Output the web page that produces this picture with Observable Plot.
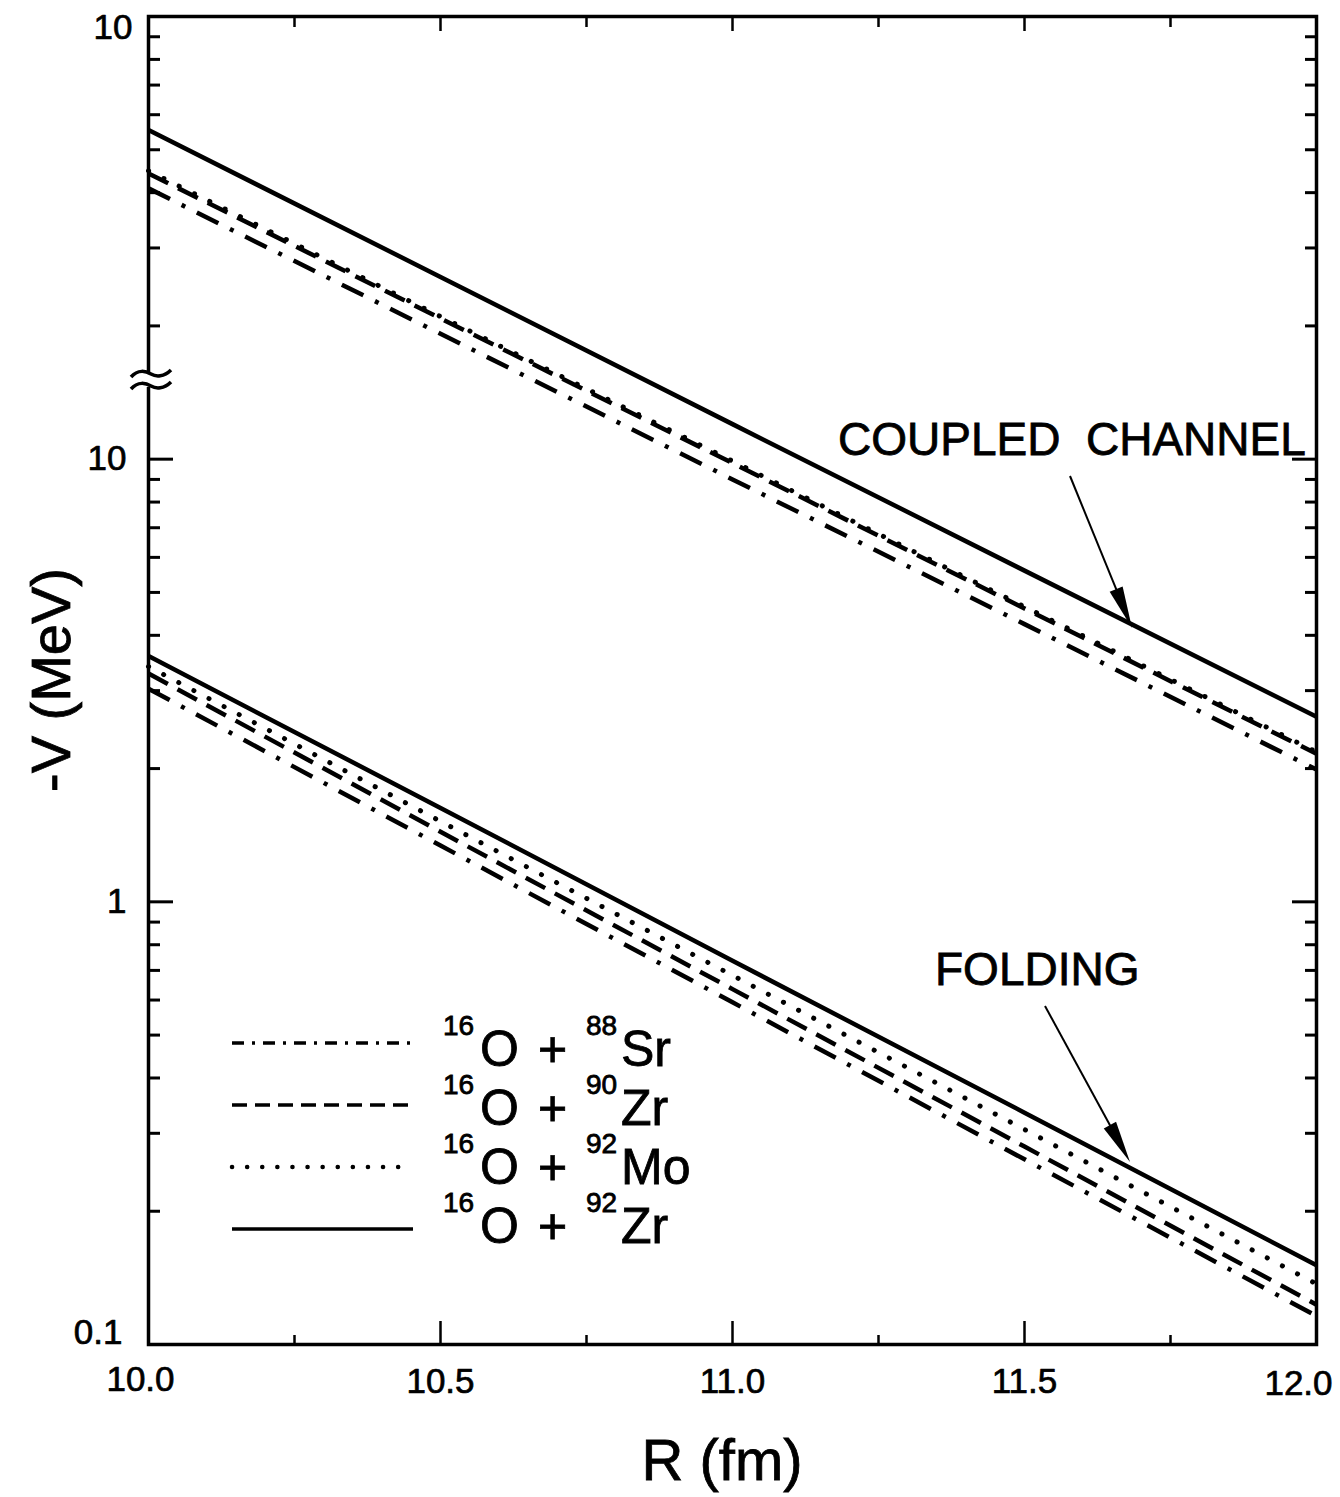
<!DOCTYPE html>
<html><head><meta charset="utf-8">
<script src="https://cdn.jsdelivr.net/npm/d3@7"></script>
<script src="https://cdn.jsdelivr.net/npm/@observablehq/plot@0.6"></script>
<style>
html,body{margin:0;padding:0;background:#fff;}
#wrap{position:relative;width:1340px;height:1497px;overflow:hidden;}
#wrap svg{position:absolute;left:0;top:0;}
</style></head><body><div id="wrap"></div>
<script>
// ---- data ----
const R = [10, 10.5, 11, 11.5, 12];                 // R (fm)
// coupled-channel potentials -V (MeV)
const ccSr88 = [40.9, 19.2, 9.0, 4.24, 1.99];
const ccZr90 = [44.2, 20.8, 9.8, 4.6, 2.16];
const ccMo92 = [44.8, 21.0, 9.9, 4.64, 2.18];
const ccZr92 = [55.4, 25.8, 12.0, 5.6, 2.62];
// folding potentials -V (MeV)
const foSr88 = [3.03, 1.34, 0.593, 0.262, 0.116];
const foZr90 = [3.28, 1.44, 0.635, 0.280, 0.123];
const foMo92 = [3.40, 1.52, 0.682, 0.306, 0.137];
const foZr92 = [3.59, 1.63, 0.736, 0.334, 0.151];
const systems = ["88Sr", "90Zr", "92Mo", "92Zr"];
const legendMass = ["88", "90", "92", "92"];
const legendElem = ["Sr", "Zr", "Mo", "Zr"];
const yMajor = [0.1, 1, 10, 100];
const yMinor = [0.2,0.3,0.4,0.5,0.6,0.7,0.8,0.9,2,3,4,5,6,7,8,9,20,30,40,50,60,70,80,90];
const xMajor = [10, 10.5, 11, 11.5, 12];
const xMinor = [10.25, 10.75, 11.25, 11.75];

const FONT = "'Liberation Sans', Arial, Helvetica, sans-serif";

const series = {
  coupled: {"88Sr": ccSr88, "90Zr": ccZr90, "92Mo": ccMo92, "92Zr": ccZr92},
  folding: {"88Sr": foSr88, "90Zr": foZr90, "92Mo": foMo92, "92Zr": foZr92}
};
const rows = [];
for (const model of Object.keys(series))
  for (const s of systems)
    series[model][s].forEach((v, i) => rows.push({model, system: s, R: R[i], V: v}));

const styles = {
  "88Sr": {dash: "24,13,4,13", cap: "butt", w: 4.5},
  "90Zr": {dash: "22,11", cap: "butt", w: 4.5},
  "92Mo": {dash: "0.1,17", cap: "round", w: 5},
  "92Zr": {dash: null, cap: "butt", w: 4.5}
};
const legendStyles = {
  "88Sr": "12,8,3,8",
  "90Zr": "15,8",
  "92Mo": "0.1,15",
  "92Zr": null
};

const lineMarks = [];
for (const model of Object.keys(series))
  for (const s of systems) {
    const st = styles[s];
    const o = {x: "R", y: "V", stroke: "black", strokeWidth: st.w, strokeLinecap: st.cap};
    if (st.dash) o.strokeDasharray = st.dash;
    lineMarks.push(Plot.line(rows.filter(d => d.model === model && d.system === s), o));
  }

const tickText = {tickSize: 0, fontSize: 35, label: null, textStroke: "black", textStrokeWidth: 0.7};

const plot = Plot.plot({
  width: 1340, height: 1497,
  marginLeft: 148, marginRight: 24, marginTop: 16, marginBottom: 153,
  style: {fontFamily: FONT, background: "transparent", color: "black"},
  x: {domain: [10, 12]},
  y: {type: "log", domain: [0.1, 100]},
  marks: [
    ...lineMarks,
    Plot.frame({stroke: "black", strokeWidth: 3.5}),
    // inward ticks
    Plot.axisY({anchor: "left", ticks: yMajor, tickSize: -25, strokeWidth: 3, fill: "none"}),
    Plot.axisY({anchor: "left", ticks: yMinor, tickSize: -12, strokeWidth: 3, fill: "none"}),
    Plot.axisY({anchor: "right", ticks: yMajor, tickSize: -25, strokeWidth: 3, fill: "none"}),
    Plot.axisY({anchor: "right", ticks: yMinor, tickSize: -12, strokeWidth: 3, fill: "none"}),
    Plot.axisX({anchor: "bottom", ticks: xMajor, tickSize: -23, strokeWidth: 2.5, fill: "none"}),
    Plot.axisX({anchor: "bottom", ticks: xMinor, tickSize: -9, strokeWidth: 2.5, fill: "none"}),
    Plot.axisX({anchor: "top", ticks: xMajor, tickSize: -14, strokeWidth: 2.5, fill: "none"}),
    Plot.axisX({anchor: "top", ticks: xMinor, tickSize: -10, strokeWidth: 2.5, fill: "none"}),
    // tick labels
    Plot.axisY({anchor: "left", ticks: [1, 10], tickPadding: 22, ...tickText, tickFormat: d => String(d)}),
    Plot.axisY({anchor: "left", ticks: [0.1], tickPadding: 26, ...tickText, dy: -12, tickFormat: d => String(d)}),
    Plot.axisY({anchor: "left", ticks: [100], tickPadding: 16, ...tickText, dy: 11, tickFormat: () => "10"}),
    Plot.axisX({anchor: "bottom", ticks: [10], tickPadding: 22, ...tickText, dx: -8, tickFormat: d3.format(".1f")}),
    Plot.axisX({anchor: "bottom", ticks: [10.5, 11, 11.5], tickPadding: 24, ...tickText, tickFormat: d3.format(".1f")}),
    Plot.axisX({anchor: "bottom", ticks: [12], tickPadding: 26, ...tickText, dx: -18, tickFormat: d3.format(".1f")})
  ]
});
document.getElementById("wrap").appendChild(plot);

// ---- overlay: axis titles, axis break, legend, annotations ----
const ov = d3.create("svg").attr("width", 1340).attr("height", 1497)
  .style("font-family", FONT).style("pointer-events", "none");
const heavy = sel => sel.attr("stroke", "black").attr("stroke-width", 0.8);

heavy(ov.append("text").attr("transform", "translate(70,680) rotate(-90)")
  .attr("text-anchor", "middle").attr("font-size", 56).text("-V (MeV)"));
heavy(ov.append("text").attr("x", 722).attr("y", 1480)
  .attr("text-anchor", "middle").attr("font-size", 58).text("R (fm)"));

// axis break symbol on the left axis
ov.append("rect").attr("x", 140).attr("y", 373).attr("width", 16).attr("height", 14).attr("fill", "white");
for (const yy of [374, 386]) {
  ov.append("path")
    .attr("d", `M131,${yy + 3} C138,${yy - 5} 146,${yy - 3} 151,${yy} S164,${yy + 3} 171,${yy - 4}`)
    .attr("fill", "none").attr("stroke", "black").attr("stroke-width", 3.5);
}

// legend
const lg = ov.append("g");
systems.forEach((s, i) => {
  const base = 1066 + i * 59;
  const ly = base - 23 + i * 3;
  const ln = lg.append("line").attr("x1", 232).attr("x2", 413).attr("y1", ly).attr("y2", ly)
    .attr("stroke", "black").attr("stroke-width", s === "92Mo" ? 4.5 : 3.5)
    .attr("stroke-linecap", s === "92Mo" ? "round" : "butt");
  if (legendStyles[s]) ln.attr("stroke-dasharray", legendStyles[s]);
  heavy(lg.append("text").attr("x", 443).attr("y", base - 31).attr("font-size", 28).text("16"));
  heavy(lg.append("text").attr("x", 480).attr("y", base).attr("font-size", 50).text("O"));
  heavy(lg.append("text").attr("x", 538).attr("y", base).attr("font-size", 50).text("+"));
  heavy(lg.append("text").attr("x", 586).attr("y", base - 31).attr("font-size", 28).text(legendMass[i]));
  heavy(lg.append("text").attr("x", 621).attr("y", base).attr("font-size", 50).text(legendElem[i]));
});

// annotations
function arrow(x1, y1, x2, y2) {
  const dx = x2 - x1, dy = y2 - y1, L = Math.hypot(dx, dy);
  const ux = dx / L, uy = dy / L, nx = -uy, ny = ux;
  const hl = 42, hw = 7;
  const bx = x2 - ux * hl, by = y2 - uy * hl;
  ov.append("line").attr("x1", x1).attr("y1", y1).attr("x2", bx + ux * 5).attr("y2", by + uy * 5)
    .attr("stroke", "black").attr("stroke-width", 2);
  ov.append("path")
    .attr("d", `M${x2},${y2}L${bx + nx * hw},${by + ny * hw}L${bx - nx * hw},${by - ny * hw}Z`)
    .attr("fill", "black");
}
heavy(ov.append("text").attr("x", 838).attr("y", 455).attr("font-size", 46)
  .style("white-space", "pre").text("COUPLED  CHANNEL"));
arrow(1070, 476, 1132, 628);
heavy(ov.append("text").attr("x", 935).attr("y", 985).attr("font-size", 46).text("FOLDING"));
arrow(1045, 1006, 1130, 1162);

document.getElementById("wrap").appendChild(ov.node());
</script>
</body></html>
